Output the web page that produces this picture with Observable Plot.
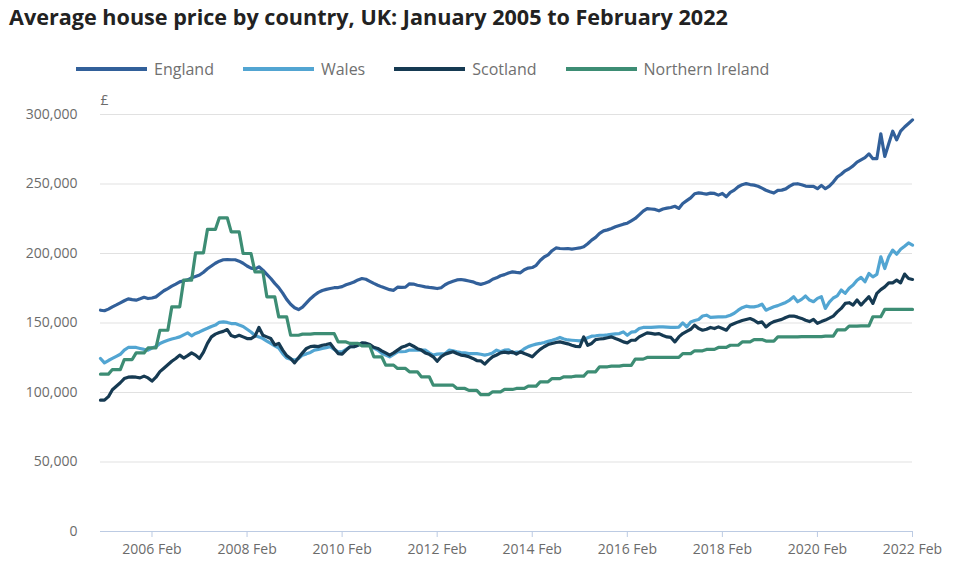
<!DOCTYPE html>
<html>
<head>
<meta charset="utf-8">
<script src="https://cdn.jsdelivr.net/npm/d3@7"></script>
<script src="https://cdn.jsdelivr.net/npm/@observablehq/plot@0.6"></script>
<style>
  body { margin: 0; background: #fff; font-family: "Open Sans", sans-serif; }
  #wrap { position: relative; width: 960px; height: 582px; overflow: hidden; }
  #title { position: absolute; left: 9px; top: 2px; font-size: 21.6px; font-weight: 700; color: #222; white-space: nowrap; }
  #legend { position: absolute; left: 76px; top: 58px; display: flex; align-items: center; font-size: 16px; color: #707070; }
  .item { display: flex; align-items: center; margin-right: 29px; }
  .sw { width: 71px; height: 4px; margin-right: 7px; }
  #chart { position: absolute; left: 0; top: 90px; }
</style>
</head>
<body>
<div id="wrap">
  <div id="title">Average house price by country, UK: January 2005 to February 2022</div>
  <div id="legend"></div>
  <div id="chart"></div>
</div>
<script>
// Monthly values, January 2005 (index 0) to February 2022 (index 205), in £ thousands
const seriesNames = ["England", "Wales", "Scotland", "Northern Ireland"];
const seriesColors = ["#32609a", "#52a5d2", "#163a52", "#3d8d74"];

const englandK = [
159.2,158.8,160,161.6,163,164.5,166,167.4,166.8,166.4,167.4,168.5,
167.6,168,168.8,171,173.2,174.8,176.5,178,179.6,180.4,181,182.5,
183.5,184.5,186.5,189,191,193,194.5,195.5,195.7,195.5,195.5,194.5,
193,191,189.5,188.8,190.4,188,185,182,178.5,175.5,171.5,167,
163.5,161,159.7,161.4,164.5,167.5,170,172,173.4,174.2,174.8,175.4,
175.5,176.2,177.5,178.5,179.5,181,182,181.5,180,178.5,177.2,176,
175,174,173.5,175.8,175.6,175.8,178.2,178,177.2,176.6,176,175.6,
175.3,174.8,175.4,177.5,179,180,181,181.3,180.8,180.2,179.6,178.5,
177.8,178.6,179.6,181.5,182.5,184,184.8,186,186.8,186.4,186.1,188.3,
189.5,189.9,191.5,195,197.5,199,202,204,203.6,203.4,203.6,203.2,
203.6,204,204.8,207,209.6,211.6,214.5,216.3,217,218,219.2,220.2,
221.1,221.8,223.5,225.2,227.8,230.5,232.3,232,231.7,230.7,232,232.6,
233.1,234,232.4,236,238,240,243,243.6,243.2,242.7,243.4,243.2,
242,243.2,240.8,244,245.6,248,249.5,250.3,249.6,249.2,248.4,247,
245.5,244.4,243.5,245.4,245.6,246.5,248.5,250,250.2,249.5,248.5,248.3,
248.3,246.6,249,246.6,248.5,251.4,255,257,259.5,261,263,265.8,
267.4,269,271.7,268.2,268.2,286.1,269.8,279,288,281.8,288,291,
293.5,296.1];

const walesK = [
124.5,121.3,123,124.5,126,127.5,130.5,132.4,132.4,132.4,131.7,131,
130.5,132,133,135.3,136.5,137.6,138.5,139.2,140,141.5,142.9,140.8,
142.5,143.6,145,146.2,147.5,148.5,150.5,150.8,150.4,149.6,149.6,148.5,
147.5,145.5,143.5,141,140,138.8,137,135.3,133.5,132,128,124.8,
124,123.3,124.5,126.9,127.8,128.8,130.5,131,131.7,132.3,132.9,131,
129.3,129.3,131,132.9,132.9,134,135.3,135,134,132,130.5,128.2,
127,125.7,127.5,129.3,129.3,129.5,130.5,130.5,130.5,130.5,130.5,128.5,
126.9,127.6,127.8,128,130.5,130,129.3,128.8,128.5,128,128,128,
127.5,126.9,127.5,128.5,130.5,129.3,130.5,130.7,128.5,129,129.3,131.5,
133,134,134.8,135.3,136,136.8,137.6,138.5,139.6,138.5,137.8,137.6,
137.4,137.2,138,139.4,140.5,140.8,141.2,141.2,141.4,141.8,142.2,142.4,
143.6,141.2,143.4,143.8,146,146.8,146.8,146.8,147,147.2,147.2,147,
146.8,146.8,147,150.1,147.2,150.8,151.8,152.5,155,155.6,154,154.2,
154.4,154.4,154.6,155.6,157,159.2,161,162.1,161.6,161.6,162.2,163.5,
159.2,160.5,161.7,162.5,163.6,164.8,166.5,168.9,165.3,167,169.4,166.5,
165.3,167.7,168.9,160.5,165,168,169.5,173.7,171.3,175,177.3,180.8,
182.8,179.7,185.6,183.2,185,197.6,189.2,197.6,202.4,199.5,203,205.2,
207.6,206];

const scotlandK = [
94.5,94.5,97,102,104.5,107,110,111,111.3,111,110.5,111.8,
110.5,108.2,111,115,117.5,120,122.5,124.5,126.9,124.8,126.5,128.5,
126.9,124.5,129,135.3,140,142,143.2,144,145.3,141,140,141.2,
140,138.8,138.8,140.5,146.8,141.2,140,138.8,134.2,135.3,130.5,126.5,
124.5,121.3,125,128.5,131.7,133,133.3,133,134,134.5,135.3,131.5,
128,127.6,130.5,132.9,132.9,134,135.7,135.5,134.5,132.5,131.7,130,
128.5,126.9,128.5,130.5,132.5,133.5,134.8,133.3,131.5,130.5,128.5,127.5,
125.7,122.5,125.7,127.6,128.5,129.3,128,126.9,126.5,125.7,124.5,123,
122.8,120.4,123.3,125.7,127,128.5,129,128.5,129.3,127.6,129.3,128,
127,125.7,128.5,131,132.9,134.5,135.3,136,136.4,135.7,135,134,
133.2,132.9,140,134,135.3,138.1,138.5,138.8,139.4,140,138.8,137.8,
136.4,135.7,137.6,137.6,140,141.5,142.9,142.5,142,142.4,141,140,
139.6,136.4,140,142.4,144,145.5,148.4,146,144.8,145.5,146.8,146,
147.2,146,144.8,148.4,149.6,150.8,151.8,152.5,153.2,152,150.1,150.8,
147.2,149.5,151,151.8,152.6,154,155,155,154.2,153.3,152,151,
152.6,149.8,151,152.1,153.5,155,158,160.5,164.1,164.6,162.9,166.5,
162.9,166,168.9,164.1,171.3,174,176,178.9,178.9,180.8,178.9,185.2,
182,181.3];

// Northern Ireland is published quarterly: 2005 Q1 to 2022 Q1, in £ thousands
const northernIrelandQuarterlyK = [
113.2,116.5,123.7,128.5,
132.1,144.8,161.6,180.8,
200.5,217.3,225.7,215.6,
200,186.8,168.8,154.4,
141.2,142,142.4,142.4,
136.4,135.3,133.5,125.7,
119.7,117.3,114.9,111.3,
105.3,105.3,102.9,101.5,
98.5,100.5,102.2,102.9,
104.6,107.7,110,111.3,
111.8,114.9,118.5,119,
119.5,124,125.2,125.2,
125.2,128,130,131,
132.4,134,136.4,138.1,
137,140,140,140.2,
140.2,140.5,145,147.8,
148,154.5,159.8,159.8,
159.8];

const yTicks = [0, 50000, 100000, 150000, 200000, 250000, 300000];
const xTickMonths = [13, 37, 61, 85, 109, 133, 157, 181, 205];
const xTickLabels = ["2006 Feb", "2008 Feb", "2010 Feb", "2012 Feb", "2014 Feb", "2016 Feb", "2018 Feb", "2020 Feb", "2022 Feb"];

// Build a long table
const monthly = [englandK, walesK, scotlandK];
const rows = [];
monthly.forEach((arr, s) => arr.forEach((v, i) => rows.push({series: seriesNames[s], month: i, price: v * 1000})));
for (let i = 0; i < englandK.length; i++) {
  rows.push({series: seriesNames[3], month: i, price: northernIrelandQuarterlyK[Math.floor(i / 3)] * 1000});
}

// Legend
const legend = document.getElementById("legend");
seriesNames.forEach((n, k) => {
  const it = document.createElement("div");
  it.className = "item";
  it.innerHTML = `<div class="sw" style="background:${seriesColors[k]}"></div><span>${n}</span>`;
  legend.appendChild(it);
});

const chart = Plot.plot({
  width: 960,
  height: 492,
  marginLeft: 100,
  marginRight: 48,
  marginTop: 24,
  marginBottom: 51,
  style: {fontFamily: "Open Sans, sans-serif", fontSize: "14px", color: "#707070", background: "#fff"},
  x: {domain: [0, 205]},
  y: {domain: [0, 300000]},
  color: {domain: seriesNames, range: seriesColors},
  marks: [
    Plot.gridY(yTicks.filter(d => d > 0), {stroke: "#e1e1e1", strokeOpacity: 1, strokeWidth: 1.2}),
    Plot.ruleY([0], {stroke: "#bccbe3", strokeWidth: 1.2}),
    Plot.axisY({ticks: yTicks, tickFormat: d3.format(","), tickSize: 0, tickPadding: 23, fill: "#6b6b6b", fontSize: 14, label: null}),
    Plot.axisX({ticks: xTickMonths, tickFormat: d => xTickLabels[xTickMonths.indexOf(d)], tickSize: 6, tickPadding: 7, stroke: "#bccbe3", fill: "#6b6b6b", fontSize: 14, label: null}),
    Plot.text(["£"], {frameAnchor: "top-left", dx: 0, dy: -19, textAnchor: "start", fill: "#6b6b6b", fontSize: 14}),
    Plot.line(rows, {x: "month", y: "price", z: "series", stroke: "series", strokeWidth: 3.2, strokeLinejoin: "round", strokeLinecap: "round"})
  ]
});
document.getElementById("chart").appendChild(chart);
</script>
</body>
</html>
